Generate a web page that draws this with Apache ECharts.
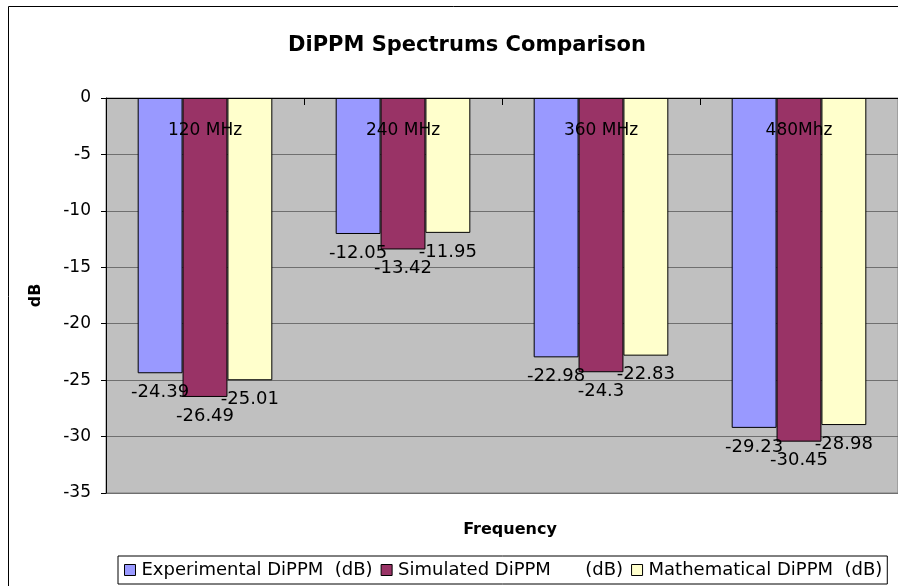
<!DOCTYPE html>
<html>
<head>
<meta charset="utf-8">
<title>DiPPM Spectrums Comparison</title>
<script src="https://cdn.jsdelivr.net/npm/echarts@6/dist/echarts.min.js"></script>
<style>
  html, body { margin: 0; padding: 0; background: #fff; }
  #chart { width: 898px; height: 586px; }
</style>
</head>
<body>
<div id="chart"></div>
<script>
// Spectrum peak levels (dB) at each harmonic frequency
const categories = ['120 MHz', '240 MHz', '360 MHz', '480Mhz'];
const experimental = [-24.39, -12.05, -22.98, -29.23];
const simulated = [-26.49, -13.42, -24.3, -30.45];
const mathematical = [-25.01, -11.95, -22.83, -28.98];
const seriesNames = ['Experimental DiPPM  (dB)', 'Simulated DiPPM      (dB)', 'Mathematical DiPPM  (dB)'];
const seriesColors = ['#9999FF', '#993366', '#FFFFCC'];

const FONT = 'DejaVu Sans';

const chart = echarts.init(document.getElementById('chart'), null, { renderer: 'canvas' });

function barSeries(name, data, color) {
  return {
    name: name,
    type: 'bar',
    data: data,
    barGap: '0%',
    barCategoryGap: '32%',
    itemStyle: { color: color, borderColor: '#000', borderWidth: 1 },
    label: {
      show: true,
      position: 'bottom',
      distance: 10,
      color: '#000',
      fontFamily: FONT,
      fontSize: 18
    }
  };
}

chart.setOption({
  animation: false,
  backgroundColor: '#fff',
  graphic: [{
    type: 'rect',
    shape: { x: 8.5, y: 6.5, width: 1000, height: 700 },
    style: { fill: 'none', stroke: '#000', lineWidth: 1 },
    z: -1
  }],
  title: [{
    text: 'DiPPM Spectrums Comparison',
    left: 462,
    top: 30,
    textAlign: 'center',
    textStyle: { fontFamily: FONT, fontSize: 21, fontWeight: 'bold', color: '#000' }
  }, {
    text: 'Frequency',
    left: 505,
    top: 517,
    textAlign: 'center',
    textStyle: { fontFamily: FONT, fontSize: 16, fontWeight: 'bold', color: '#000' }
  }],
  legend: {
    left: 118,
    top: 556,
    data: seriesNames,
    icon: 'rect',
    itemWidth: 11,
    itemHeight: 11,
    itemGap: 8,
    padding: [5, 5, 5, 6],
    borderColor: '#000',
    borderWidth: 1,
    textStyle: { fontFamily: FONT, fontSize: 18, color: '#000', padding: [0, 0, 0, 1] },
    itemStyle: { borderColor: '#000', borderWidth: 1 }
  },
  grid: {
    left: 106,
    top: 98,
    width: 793,
    height: 395,
    show: true,
    backgroundColor: '#C0C0C0',
    borderColor: '#808080',
    borderWidth: 1
  },
  xAxis: {
    type: 'category',
    data: categories,
    position: 'top',
    z: 5,
    axisLine: { show: true, lineStyle: { color: '#000', width: 1 } },
    axisTick: { show: true, inside: true, length: 7, lineStyle: { color: '#000' } },
    axisLabel: {
      inside: true,
      margin: 24,
      color: '#000',
      fontFamily: FONT,
      fontSize: 17
    }
  },
  yAxis: {
    type: 'value',
    min: -35,
    max: 0,
    interval: 5,
    name: 'dB',
    nameLocation: 'middle',
    nameRotate: 90,
    nameGap: 62,
    nameTextStyle: { fontFamily: FONT, fontSize: 16, fontWeight: 'bold', color: '#000' },
    axisLine: { show: true, lineStyle: { color: '#000', width: 1 } },
    axisTick: { show: true, length: 5, lineStyle: { color: '#000' } },
    axisLabel: { margin: 15, color: '#000', fontFamily: FONT, fontSize: 17 },
    splitLine: { show: true, lineStyle: { color: '#6f6f6f', width: 1 } }
  },
  series: [
    barSeries(seriesNames[0], experimental, seriesColors[0]),
    barSeries(seriesNames[1], simulated, seriesColors[1]),
    barSeries(seriesNames[2], mathematical, seriesColors[2])
  ]
});
</script>
</body>
</html>
